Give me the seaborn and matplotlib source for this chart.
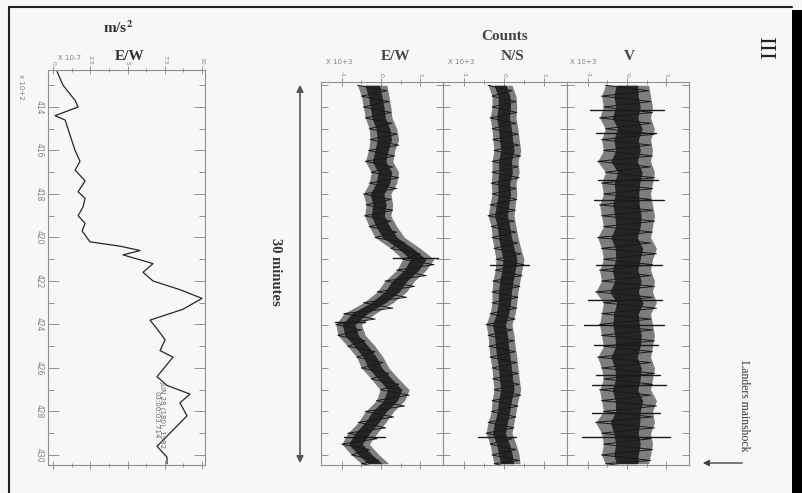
import matplotlib
matplotlib.use("Agg")
import matplotlib.pyplot as plt
from matplotlib.lines import Line2D
from matplotlib.patches import Rectangle, FancyArrowPatch
import seaborn as sns

# ---------------- data ----------------
# Left panel: E/W acceleration (x 10^-7 m/s^2) against time (x 10^2 s)
acc_time = [412.37, 413.0, 413.7, 414.0, 414.4, 414.6, 415.3, 416.0, 416.5, 416.9,
            417.4, 417.9, 418.2, 418.6, 419.0, 419.35, 419.7, 420.2, 420.4, 420.6,
            420.8, 421.2, 421.6, 422.0, 422.4, 422.8, 423.3, 423.8, 424.2, 424.7,
            425.2, 425.5, 426.4, 426.8, 427.2, 427.6, 428.2, 429.6, 430.1, 430.4]
acc_ew = [0.27, 0.67, 1.48, 1.68, 0.13, 0.81, 1.14, 1.48, 1.81, 1.48,
          2.15, 1.68, 2.15, 2.01, 1.68, 2.15, 1.95, 2.48, 4.50, 5.84,
          4.70, 6.71, 6.04, 6.71, 8.52, 10.0, 8.72, 6.51, 6.98, 7.52,
          7.18, 8.05, 6.98, 7.65, 9.19, 8.52, 8.99, 6.98, 7.65, 7.65]

# Counts panels (x 10^3 counts): left / right edge of the trace band per sample
cnt_time = [413.0, 413.5, 414.0, 414.5, 415.0, 415.5, 416.0, 416.5, 417.0, 417.5,
            418.0, 418.5, 419.0, 419.5, 420.0, 420.5, 421.0, 421.5, 422.0, 422.5,
            423.0, 423.5, 424.0, 424.5, 425.0, 425.5, 426.0, 426.5, 427.0, 427.5,
            428.0, 428.5, 429.0, 429.5, 430.0, 430.4]
ew_lo = [-0.60, -0.50, -0.45, -0.40, -0.30, -0.28, -0.32, -0.40, -0.25, -0.30,
         -0.45, -0.38, -0.42, -0.30, -0.15, 0.25, 0.55, 0.40, 0.10, -0.10,
         -0.45, -0.95, -1.15, -1.10, -0.85, -0.62, -0.50, -0.25, -0.02, -0.12,
         -0.40, -0.58, -0.85, -1.00, -0.75, -0.50]
ew_hi = [0.15, 0.20, 0.25, 0.28, 0.40, 0.45, 0.35, 0.30, 0.45, 0.40,
         0.25, 0.30, 0.25, 0.40, 0.60, 1.00, 1.35, 1.15, 0.85, 0.65,
         0.30, -0.15, -0.50, -0.40, -0.15, 0.05, 0.20, 0.45, 0.72, 0.60,
         0.32, 0.12, -0.10, -0.30, -0.05, 0.20]
ns_lo = [-0.40, -0.30, -0.30, -0.35, -0.30, -0.28, -0.25, -0.30, -0.30, -0.32,
         -0.30, -0.35, -0.40, -0.32, -0.30, -0.25, -0.20, -0.22, -0.28, -0.30,
         -0.30, -0.35, -0.45, -0.40, -0.38, -0.35, -0.30, -0.28, -0.25, -0.30,
         -0.32, -0.40, -0.45, -0.35, -0.30, -0.25]
ns_hi = [0.20, 0.30, 0.32, 0.30, 0.35, 0.38, 0.42, 0.35, 0.38, 0.30,
         0.32, 0.28, 0.25, 0.30, 0.35, 0.42, 0.50, 0.45, 0.40, 0.35,
         0.32, 0.28, 0.20, 0.25, 0.28, 0.32, 0.35, 0.38, 0.42, 0.35,
         0.30, 0.25, 0.20, 0.30, 0.38, 0.40]
v_lo = [-0.55, -0.65, -0.60, -0.70, -0.55, -0.65, -0.60, -0.75, -0.55, -0.65,
        -0.60, -0.70, -0.65, -0.60, -0.75, -0.65, -0.60, -0.70, -0.65, -0.80,
        -0.60, -0.65, -0.70, -0.65, -0.60, -0.75, -0.65, -0.60, -0.70, -0.65,
        -0.60, -0.80, -0.65, -0.60, -0.65, -0.55]
v_hi = [0.55, 0.60, 0.65, 0.60, 0.70, 0.60, 0.65, 0.60, 0.70, 0.65,
        0.60, 0.65, 0.70, 0.65, 0.60, 0.75, 0.65, 0.60, 0.70, 0.65,
        0.75, 0.60, 0.65, 0.70, 0.65, 0.60, 0.70, 0.65, 0.60, 0.75,
        0.65, 0.70, 0.60, 0.65, 0.60, 0.55]

# isolated long spikes (time, left end, right end)
ew_spk = [(420.94, 0.30, 1.45), (423.89, -1.18, -0.40), (429.17, -0.95, 0.10)]
ns_spk = [(421.27, -0.35, 0.62), (429.17, -0.65, 0.30)]
v_spk = [(414.14, -0.95, 0.95), (415.20, -0.80, 0.75), (417.36, -0.75, 0.80),
         (418.28, -0.85, 0.95), (421.27, -0.80, 0.90), (422.87, -1.00, 0.90),
         (424.02, -1.10, 0.95), (424.94, -0.85, 0.80), (426.32, -0.80, 0.85),
         (426.78, -0.90, 1.00), (428.07, -0.90, 0.85), (429.17, -1.15, 1.10)]

acc_ticks = [0, 2.5, 5, 7.5, 10]
acc_ticklabels = ["0", "2.5", "5", "7.5", "10"]
time_ticks = [414, 416, 418, 420, 422, 424, 426, 428, 430]
cnt_ticks = [-1, 0, 1]

# ---------------- style ----------------
sns.set_theme(style="white")
BG = "#f7f7f7"
INK = "#262626"
AX = "#8f8f8f"
plt.rcParams["font.family"] = ["DejaVu Sans"]
plt.rcParams["mathtext.fontset"] = "stix"
SERIF = ["Liberation Serif", "DejaVu Serif"]

W, H = 802, 493
fig = plt.figure(figsize=(W / 100, H / 100), dpi=100, facecolor=BG)


def fx(px):
    return px / W


def fy(py):
    return 1 - py / H


def style_axes(ax):
    ax.set_facecolor(BG)
    for s in ax.spines.values():
        s.set_color(AX)
        s.set_linewidth(0.8)
    ax.tick_params(axis="both", which="both", colors=AX, labelcolor="#808080",
                   labelsize=4.5, width=0.7)


# ---------- left acceleration panel ----------
axA = fig.add_axes([fx(48), fy(465), fx(205 - 48), (465 - 70) / H])
style_axes(axA)
sns.lineplot(x=acc_ew, y=acc_time, sort=False, estimator=None, ax=axA,
             color=INK, linewidth=0.9)
axA.set_xlim(-0.34, 10.2)
axA.set_ylim(430.46, 412.3)
axA.set_xticks(acc_ticks)
axA.set_xticklabels(acc_ticklabels)
axA.set_xticks([1.25, 3.75, 6.25, 8.75], minor=True)
axA.set_yticks(time_ticks)
axA.set_yticklabels([str(t) for t in time_ticks])
axA.set_yticks([413, 415, 417, 419, 421, 423, 425, 427, 429], minor=True)
axA.tick_params(axis="x", which="both", top=True, bottom=True, labeltop=True,
                labelbottom=False, direction="inout", labelrotation=-90, pad=0.5)
axA.tick_params(axis="x", which="major", length=6)
axA.tick_params(axis="x", which="minor", length=3)
axA.tick_params(axis="y", which="both", left=True, right=True, direction="in",
                labelrotation=-90, pad=3, labelsize=5.5)
axA.tick_params(axis="y", which="major", length=8)
axA.tick_params(axis="y", which="minor", length=4)
axA.set_xlabel("")
axA.set_ylabel("")
for lbl in axA.get_yticklabels():
    lbl.set_verticalalignment("center")

# ---------- counts panels ----------
panels = [(321, 443, ew_lo, ew_hi, ew_spk), (443, 567, ns_lo, ns_hi, ns_spk),
          (567, 689, v_lo, v_hi, v_spk)]
for (x0, x1, lo, hi, spk) in panels:
    ax = fig.add_axes([fx(x0), fy(465), fx(x1 - x0), (465 - 82) / H])
    style_axes(ax)
    ax.fill_betweenx(cnt_time, lo, hi, color="#555555", alpha=0.75, linewidth=0)
    mid_lo = [(3 * a + b) / 4 for a, b in zip(lo, hi)]
    mid_hi = [(a + 3 * b) / 4 for a, b in zip(lo, hi)]
    ax.fill_betweenx(cnt_time, mid_lo, mid_hi, color="#1c1c1c", alpha=0.9, linewidth=0)
    zz_t, zz_v = [], []
    for i, t in enumerate(cnt_time):
        zz_t += [t, t + 0.25]
        zz_v += [lo[i], hi[i]]
    sns.lineplot(x=zz_v, y=zz_t, sort=False, estimator=None, ax=ax,
                 color="#1a1a1a", linewidth=0.7)
    for (t, a, b) in spk:
        ax.plot([a, b], [t, t], color="#1a1a1a", linewidth=1.0)
    ax.set_xlim(-1.53, 1.58)
    ax.set_ylim(430.46, 412.85)
    ax.set_xticks(cnt_ticks)
    ax.set_xticklabels(["-1", "0", "1"])
    ax.set_xticks([-0.5, 0.5], minor=True)
    ax.set_yticks(list(range(413, 431)))
    ax.set_yticklabels([])
    ax.tick_params(axis="x", which="both", top=True, bottom=True, labeltop=True,
                   labelbottom=False, direction="inout", labelrotation=-90, pad=0.5)
    ax.tick_params(axis="x", which="major", length=6)
    ax.tick_params(axis="x", which="minor", length=3)
    ax.tick_params(axis="y", which="both", left=True, right=True, direction="in",
                   length=5)
    ax.set_xlabel("")
    ax.set_ylabel("")

# ---------- texts ----------
fig.text(fx(118), fy(28), r"m/s$^{\mathbf{2}}$", family=SERIF, weight="bold",
         fontsize=11, ha="center", va="center", color="#333333")
fig.text(fx(70), fy(58), "X 10-7", fontsize=5, ha="center", va="center", color="#808080")
fig.text(fx(130), fy(56), "E/W", family=SERIF, weight="bold", fontsize=11,
         ha="center", va="center", color="#333333")
fig.text(fx(21), fy(87), "x 10+2", fontsize=5, rotation=-90, ha="center",
         va="center", color="#808080")

fig.text(fx(505), fy(36), "Counts", family=SERIF, weight="bold", fontsize=11,
         ha="center", va="center", color="#444444")
for xl, xt, name in [(339, 396, "E/W"), (461, 513, "N/S"), (583, 629, "V")]:
    fig.text(fx(xl), fy(62), "X 10+3", fontsize=5, ha="center", va="center",
             color="#808080")
    fig.text(fx(xt), fy(57), name, family=SERIF, weight="bold", fontsize=11,
             ha="center", va="center", color="#444444")

fig.text(fx(160), fy(415), "JUN 28 (180), 1992\n03:00:03.714", fontsize=5,
         rotation=-90, ha="center", va="center", color="#666666",
         linespacing=1.0)

fig.text(fx(275), fy(272), "30 minutes", family=SERIF, weight="bold", fontsize=10.5,
         rotation=-90, ha="center", va="center", color="#333333")
fig.add_artist(FancyArrowPatch((fx(300), fy(466)), (fx(300), fy(82)),
                               transform=fig.transFigure, arrowstyle="<|-|>",
                               mutation_scale=10, color="#555555", linewidth=1.2))

fig.text(fx(765), fy(48), "III", family=SERIF, fontsize=17, rotation=-90,
         ha="center", va="center", color="#222222")
fig.text(fx(744), fy(406), "Landers mainshock", family=SERIF, fontsize=8.5,
         rotation=-90, ha="center", va="center", color="#333333")
fig.add_artist(FancyArrowPatch((fx(745), fy(463)), (fx(700), fy(463)),
                               transform=fig.transFigure, arrowstyle="-|>",
                               mutation_scale=9, color="#444444", linewidth=1.0))

# frame
fig.add_artist(Line2D([fx(9), fx(792)], [fy(7), fy(7)], transform=fig.transFigure,
                      color="#222222", linewidth=1.5))
fig.add_artist(Line2D([fx(9), fx(9)], [fy(7), 0], transform=fig.transFigure,
                      color="#222222", linewidth=1.5))
fig.add_artist(Rectangle((fx(792), 0), 1 - fx(792), fy(10), transform=fig.transFigure,
                         color="black", linewidth=0))

fig.savefig("out.png", dpi=100, facecolor=BG)
